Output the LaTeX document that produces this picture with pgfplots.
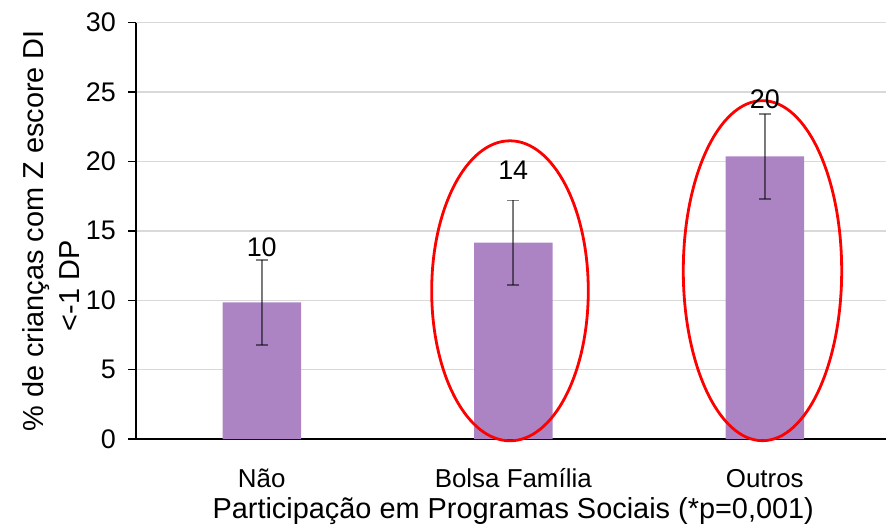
\documentclass[border=0pt]{standalone}
\usepackage{pgfplots}
\usepackage{pgfplotstable}
\pgfplotsset{compat=1.18}
\usepackage{fontspec}
\setmainfont{Liberation Sans}

\definecolor{barpurple}{RGB}{172,132,196}
\definecolor{gridgray}{RGB}{217,217,217}

% x = category index, y = percentage, err = half-width of the interval,
% ly = height of the value label, lab = rounded value
\pgfplotstableread{
x y     err  ly    lab
0 9.85  3.06 13.85 10
1 14.15 3.05 19.35 14
2 20.37 3.06 24.50 20
}\datatable

\begin{document}
\begin{tikzpicture}
\useasboundingbox (-136bp,-89bp) rectangle (750bp,439bp);
\begin{axis}[
  at={(0,0)}, anchor=south west,
  scale only axis, width=754.5bp, height=416.3bp,
  xmin=-0.5, xmax=2.5,
  ymin=0, ymax=30,
  ytick={0,5,...,30},
  yticklabels={0,5,10,15,20,25,30},
  xtick={0,1,2},
  xticklabels={Não, Bolsa Família, Outros},
  axis lines=left,
  axis line style={-, line width=1.6bp, black},
  xtick style={draw=none},
  ytick style={line width=1.4bp, black},
  tick align=outside,
  major tick length=8bp,
  ymajorgrids,
  grid style={gridgray, line width=1.4bp},
  y tick label style={font=\fontsize{27}{30}\selectfont, inner sep=0pt, xshift=-12bp},
  x tick label style={font=\fontsize{26}{30}\selectfont, inner sep=0pt,
                      text height=19bp, text depth=5bp, yshift=-21bp},
  ylabel={\% de crianças com Z escore DI\\\hspace*{-110bp}<-1 DP},
  ylabel style={at={(axis description cs:0,0.5)}, anchor=south, align=center,
                inner sep=0pt, yshift=56bp,
                font=\fontsize{29}{36}\selectfont},
  xlabel={Participação em Programas Sociais (*p=0,001)},
  xlabel style={at={(axis description cs:0.5,0)}, anchor=base, inner sep=0pt,
                yshift=-79.3bp, font=\fontsize{29}{32}\selectfont},
  clip=false,
]
  % bars with their intervals
  \addplot[ybar, bar width=78.5bp, fill=barpurple, draw=none,
    error bars/.cd, y dir=both, y explicit,
    error bar style={line width=1.6bp, black, opacity=0.5},
    error mark options={rotate=90, mark size=6bp, line width=1.6bp, black, opacity=0.5}]
    table[x=x, y=y, y error=err] {\datatable};

  % value labels above each bar
  \addplot[draw=none, mark=none, nodes near coords, point meta=explicit symbolic,
    nodes near coords style={anchor=center, inner sep=0pt,
                             font=\fontsize{27}{30}\selectfont}]
    table[x=x, y=ly, meta=lab] {\datatable};

  % highlight of the two programme groups
  \draw[red, line width=2.8bp] (axis cs:0.987,10.68) ellipse [x radius=78.3bp, y radius=150bp];
  \draw[red, line width=2.8bp] (axis cs:1.991,12.13) ellipse [x radius=79.2bp, y radius=170bp];
\end{axis}
\end{tikzpicture}
\end{document}
